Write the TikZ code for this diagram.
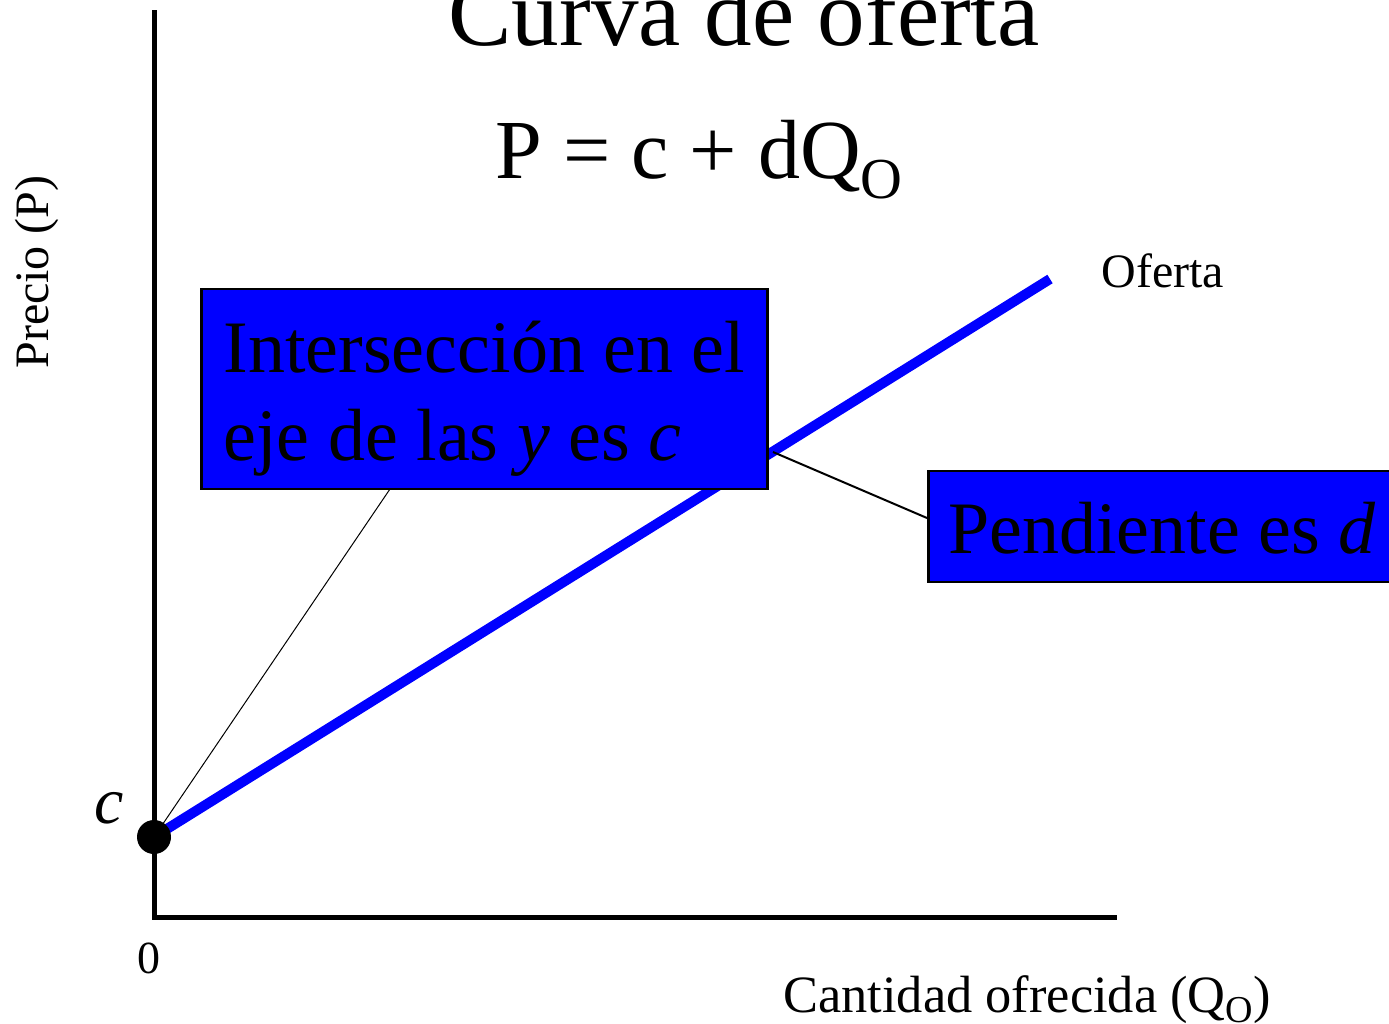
\documentclass[tikz,border=0pt]{standalone}
\usepackage{fontspec}
\setmainfont{Liberation Serif}
\usetikzlibrary{positioning}
\newcommand{\subO}[2]{\raisebox{#1}{\fontsize{#2}{#2}\selectfont O}}
\tikzset{
  axisline/.style={line width=2.5pt},
  supply/.style={line width=5pt, blue},
  infobox/.style={draw=black, line width=1.3pt, fill=blue, inner xsep=10pt, inner ysep=0pt},
  pointer/.style={line width=0.5pt},
}
\begin{document}
\begin{tikzpicture}[x=0.5pt,y=-0.5pt]
\useasboundingbox (0,0) rectangle (1389,1024);
% ejes
\coordinate (ytop) at (154,10);
\coordinate (origin) at (154,917);
\coordinate (xend) at (1117,917);
\draw[axisline] (ytop) -- (origin) -- (xend);
% curva de oferta
\coordinate (cpt) at (154,837);
\coordinate (send) at (1050,279);
\coordinate (slopept) at (773,452);
\draw[supply] (cpt) -- (send);
\node[circle, fill=black, minimum size=17pt, inner sep=0pt] (dot) at (cpt) {};
% textos
\node[anchor=base, font=\fontsize{47.5}{50}\selectfont] (title) at (744,45) {Curva de oferta};
\node[anchor=base west, font=\fontsize{42}{46}\selectfont, inner sep=0pt] (eqn) at (495,178) {P = c + dQ\subO{-10pt}{29pt}};
\node[anchor=base west, font=\fontsize{24}{28}\selectfont, inner sep=0pt] (oferta) at (1101,287) {Oferta};
\node[anchor=base, rotate=90, font=\fontsize{24}{28}\selectfont, inner sep=0pt] (ylab) at (48,272) {Precio (P)};
\node[anchor=base west, font=\fontsize{26.2}{28}\selectfont, inner sep=0pt] (xlab) at (783,1012) {Cantidad ofrecida (Q\subO{-5pt}{19pt})};
\node[anchor=base, font=\fontsize{33}{36}\selectfont\itshape, inner sep=0pt] (clab) at (109,823) {c};
\node[anchor=base, font=\fontsize{23}{26}\selectfont, inner sep=0pt] (zero) at (149,973) {0};
% cuadros
\draw[pointer] (dot.center) -- (390,489);
\draw[line width=1pt] (slopept) -- (927,518);
\node[infobox, anchor=base west, align=left, minimum width=283pt, text height=85.5pt, text depth=14.5pt,
  font=\fontsize{37}{44}\selectfont] (icept) at (200,460)
  {Intersección en el\\eje de las \textit{y} es \textit{c}};
\node[infobox, anchor=base west, text height=41pt, text depth=14.5pt,
  font=\fontsize{37}{44}\selectfont] (slope) at (927,553) {Pendiente es \textit{d}};
\end{tikzpicture}
\end{document}
